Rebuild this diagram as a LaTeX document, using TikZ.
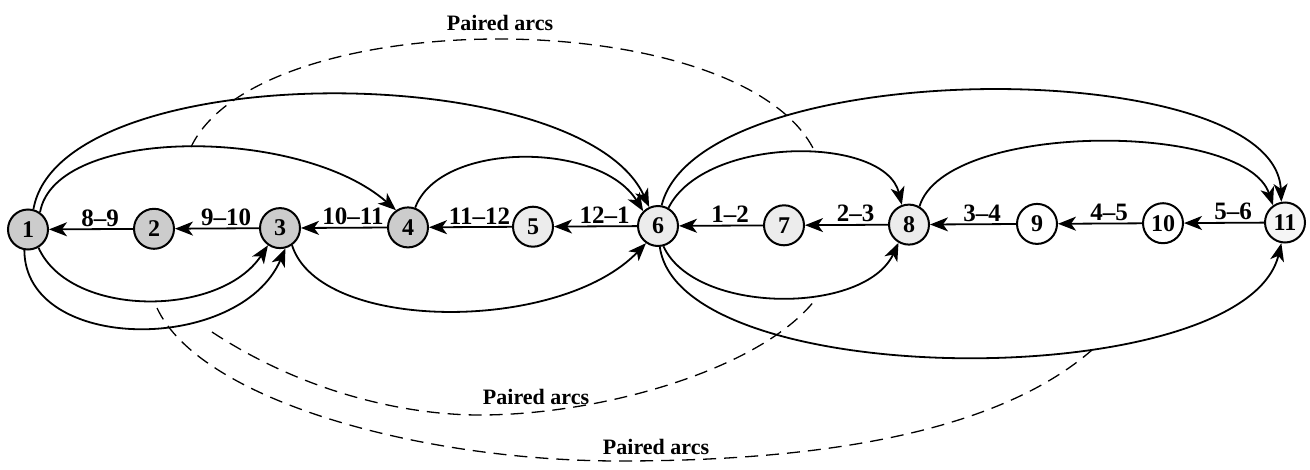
\documentclass[tikz,border=0pt]{standalone}
\usepackage{fontspec}
\setmainfont{Liberation Serif}
\usetikzlibrary{arrows.meta}
\begin{document}
\begin{tikzpicture}[x=1pt,y=-1pt,
  stn/.style={circle, draw, line width=2pt, minimum size=40pt, inner sep=0pt,
              font=\fontsize{24}{24}\selectfont\bfseries},
  dark/.style={stn, fill=gray!40},
  light/.style={stn, fill=gray!15},
  pale/.style={stn, fill=gray!8},
  plain/.style={stn, fill=white},
  link/.style={line width=1.8pt, -{Stealth[length=18pt,width=14pt,inset=5pt]}},
  pair/.style={line width=1.3pt, dash pattern=on 13pt off 8pt},
  lbl/.style={midway, above, xshift=9pt, inner sep=2pt,
              font=\fontsize{25}{25}\selectfont\bfseries},
  arcnote/.style={inner sep=0pt, font=\fontsize{22}{22}\selectfont\bfseries}
]
\useasboundingbox (0,0) rectangle (1310,469);

% stations along the line
\node[dark]  (n1)  at (28,229.5)  {1};
\node[dark]  (n2)  at (154,228.8) {2};
\node[dark]  (n3)  at (280,228.1) {3};
\node[dark]  (n4)  at (408,227.4) {4};
\node[light] (n5)  at (533,226.7) {5};
\node[light] (n6)  at (658,226.0) {6};
\node[light] (n7)  at (784,225.3) {7};
\node[light] (n8)  at (909,224.6) {8};
\node[plain] (n9)  at (1037,223.9) {9};
\node[plain] (n10) at (1163,223.2) {10};
\node[pale]  (n11) at (1285,222.5) {11};

% consecutive links with their time labels
\draw[link] (n2)  -- node[lbl] {8\textendash9}   (n1);
\draw[link] (n3)  -- node[lbl] {9\textendash10}  (n2);
\draw[link] (n4)  -- node[lbl] {10\textendash11} (n3);
\draw[link] (n5)  -- node[lbl] {11\textendash12} (n4);
\draw[link] (n6)  -- node[lbl] {12\textendash1}  (n5);
\draw[link] (n7)  -- node[lbl] {1\textendash2}   (n6);
\draw[link] (n8)  -- node[lbl] {2\textendash3}   (n7);
\draw[link] (n9)  -- node[lbl] {3\textendash4}   (n8);
\draw[link] (n10) -- node[lbl] {4\textendash5}   (n9);
\draw[link] (n11) -- node[lbl] {5\textendash6}   (n10);

% upper arcs
\draw[link] (n1.55) .. controls (55,126) and (300,126) .. (n4.125);
\draw[link] (n1.75) .. controls (60,57) and (580,57) .. (n6.115);
\draw[link] (n4.70) .. controls (440,141) and (600,141) .. (n6.135);
\draw[link] (n6.60) .. controls (705,135) and (885,135) .. (n8.110);
\draw[link] (n6.80) .. controls (700,53) and (1275,53) .. (n11.100);
\draw[link] (n8.60) .. controls (945,121) and (1245,121) .. (n11.125);

% lower arcs
\draw[link] (n1.300) .. controls (70,318) and (220,318) .. (n3.235);
\draw[link] (n1.260) .. controls (25,354) and (240,354) .. (n3.285);
\draw[link] (n3.305) .. controls (320,333) and (560,333) .. (n6.235);
\draw[link] (n6.285) .. controls (695,315) and (865,315) .. (n8.240);
\draw[link] (n6.275) .. controls (680,394) and (1245,394) .. (n11.260);

% pairing curves
\coordinate (pa1) at (191,147);
\coordinate (pa2) at (814,150);
\coordinate (pb1) at (212,332);
\coordinate (pb2) at (815,300);
\coordinate (pc1) at (157,308);
\coordinate (pc2) at (1092,350);
\draw[pair] (pa1) .. controls (260,2.5) and (740,2.5) .. (pa2);
\draw[pair] (pb1) .. controls (300,390) and (400,415) .. (480,415)
                  .. controls (600,415) and (760,370) .. (pb2);
\draw[pair] (pc1) .. controls (200,400) and (420,461) .. (620,461)
                  .. controls (830,461) and (1000,430) .. (pc2);

\node[arcnote] (t1) at (500,23)  {Paired arcs};
\node[arcnote] (t2) at (536,397) {Paired arcs};
\node[arcnote] (t3) at (656,447) {Paired arcs};
\end{tikzpicture}
\end{document}
